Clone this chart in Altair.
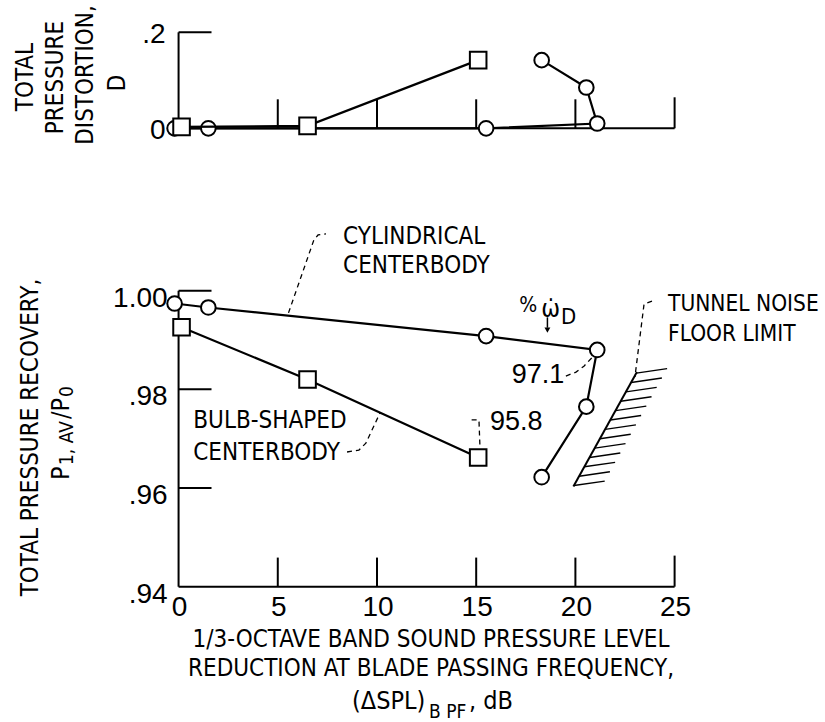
import altair as alt
import pandas as pd

# ---------------------------------------------------------------------------
# Data: inlet with cylindrical vs. bulb-shaped centerbody
# ---------------------------------------------------------------------------
# 1/3-octave band SPL reduction at blade passing frequency, dB
cyl_spl = [-0.2, 1.5, 15.5, 21.1, 20.55, 18.3]
bulb_spl = [0.15, 6.5, 15.1]

# Total pressure recovery P1,AV/P0
cyl_recovery = [0.9974, 0.9966, 0.9908, 0.9880, 0.9765, 0.9622]
bulb_recovery = [0.9926, 0.9820, 0.9662]

# Total pressure distortion D
cyl_distortion = [0.0, 0.0, 0.0, 0.010, 0.085, 0.142]
bulb_distortion = [0.003, 0.005, 0.142]

# Axis ticks and labels
spl_ticks = [0, 5, 10, 15, 20, 25]
recovery_ticks = [0.94, 0.96, 0.98, 1.00]
recovery_labels = [".94", ".96", ".98", "1.00"]
distortion_ticks = [0.0, 0.2]
distortion_labels = ["0", ".2"]

# Tunnel noise floor limit (boundary of hatched region)
floor_spl = [19.9, 23.1]
floor_recovery = [0.9603, 0.9835]
hatch_levels = [0.9605, 0.9624, 0.9643, 0.9662, 0.9681, 0.9700, 0.9719,
                0.9738, 0.9757, 0.9776, 0.9795, 0.9814, 0.9833]

# ---------------------------------------------------------------------------
# Scales (both panels share the SPL axis)
# ---------------------------------------------------------------------------
X_SCALE = alt.Scale(domain=[-9.0, 32.58], nice=False, zero=False)
Y_DIST = alt.Scale(domain=[-1.2369, 0.2673], nice=False, zero=False)
Y_REC = alt.Scale(domain=[0.91257, 1.05893], nice=False, zero=False)

NARROW = "Liberation Sans Narrow, Arial Narrow, sans-serif"
COND = "DejaVu Sans Condensed, Liberation Sans Narrow, sans-serif"

YTICK_LEN = 1.66  # dB, inward y ticks


def xq(field):
    return alt.X(f"{field}:Q", scale=X_SCALE, axis=None)


def yq(field, scale):
    return alt.Y(f"{field}:Q", scale=scale, axis=None)


def segments(df, yscale, **style):
    return alt.Chart(df).mark_rule(color="black", **style).encode(
        x=xq("x"), y=yq("y", yscale), x2="x2:Q", y2="y2:Q")


def texts(df, yscale, **style):
    return alt.Chart(df).mark_text(color="black", **style).encode(
        x=xq("x"), y=yq("y", yscale), text="t:N")


def pixel_texts(df, **style):
    return alt.Chart(df).mark_text(color="black", **style).encode(
        x=alt.X("px:Q", scale=None, axis=None),
        y=alt.Y("py:Q", scale=None, axis=None),
        text="t:N")


def axis_frame(y0, y_top, y_ticks, xtick_len, last_len):
    rows = [dict(x=0, y=y0, x2=0, y2=y_top), dict(x=0, y=y0, x2=25, y2=y0)]
    rows += [dict(x=0, y=v, x2=YTICK_LEN, y2=v) for v in y_ticks if v != y0]
    rows += [dict(x=v, y=y0, x2=v, y2=y0 + (last_len if v == 25 else xtick_len))
             for v in spl_ticks if v > 0]
    return pd.DataFrame(rows)


def series(spl, values, yscale, shape, size):
    df = pd.DataFrame({"spl": spl, "v": values, "seq": range(len(spl))})
    base = alt.Chart(df).encode(x=xq("spl"), y=yq("v", yscale), order="seq:Q")
    line = base.mark_line(color="black", strokeWidth=2.2)
    pts = base.mark_point(shape=shape, size=size, filled=True, fill="white",
                          stroke="black", strokeWidth=2, opacity=1)
    return line + pts


CIRCLE = 215
SQUARE = 275

# ---------------------------------------------------------------------------
# Upper panel: total pressure distortion
# ---------------------------------------------------------------------------
top_axes = segments(axis_frame(0.0, 0.2, distortion_ticks, 0.0604, 0.0646), Y_DIST, strokeWidth=2)
top_labels = texts(pd.DataFrame({"x": [0, 0], "y": distortion_ticks, "t": distortion_labels}),
                   Y_DIST, font=NARROW, fontSize=28, align="right", baseline="middle", dx=-13, dy=3)
top = alt.layer(
    top_axes,
    top_labels,
    series(cyl_spl, cyl_distortion, Y_DIST, "circle", CIRCLE),
    series(bulb_spl, bulb_distortion, Y_DIST, "square", SQUARE),
)

# ---------------------------------------------------------------------------
# Lower panel: total pressure recovery
# ---------------------------------------------------------------------------
bot_axes = segments(axis_frame(0.94, 1.00, recovery_ticks, 0.0059, 0.0063), Y_REC, strokeWidth=2)
bot_xlabels = texts(pd.DataFrame({"x": spl_ticks, "y": [0.94] * len(spl_ticks),
                                  "t": [str(v) for v in spl_ticks]}),
                    Y_REC, font=NARROW, fontSize=28, align="center", baseline="middle", dy=21, dx=1)
bot_ylabels = texts(pd.DataFrame({"x": [0] * 4, "y": recovery_ticks, "t": recovery_labels}),
                    Y_REC, font=NARROW, fontSize=28, align="right", baseline="middle", dx=-11, dy=8)

# noise floor boundary with hatching
floor_line = segments(pd.DataFrame({"x": [floor_spl[0]], "y": [floor_recovery[0]],
                                    "x2": [floor_spl[1]], "y2": [floor_recovery[1]]}),
                      Y_REC, strokeWidth=2)
slope = (floor_spl[1] - floor_spl[0]) / (floor_recovery[1] - floor_recovery[0])
hatch_x = [floor_spl[0] + (r - floor_recovery[0]) * slope for r in hatch_levels]
hatch = segments(pd.DataFrame({"x": hatch_x, "y": hatch_levels,
                               "x2": [x + 1.55 for x in hatch_x],
                               "y2": [r + 0.0009 for r in hatch_levels]}),
                 Y_REC, strokeWidth=1.4)

# dashed leader lines from labels to curves
leaders = {
    "cyl": [(5.54, 0.9955), (6.82, 1.0103), (7.03, 1.0113), (7.43, 1.0115)],
    "bulb": [(8.49, 0.9673), (9.09, 0.9677), (9.44, 0.9691), (10.15, 0.9752)],
    "p958": [(14.77, 0.9738), (15.14, 0.9738), (15.19, 0.9683)],
    "p971": [(19.52, 0.9827), (20.03, 0.9835), (20.43, 0.9847), (20.83, 0.9864)],
    "floor": [(23.86, 0.9979), (23.46, 0.9973), (23.00, 0.9825)],
}
lead_rows = []
for name, pts in leaders.items():
    for i, (x, y) in enumerate(pts):
        lead_rows.append(dict(id=name, seq=i, x=x, y=y))
leader_lines = alt.Chart(pd.DataFrame(lead_rows)).mark_line(
    color="black", strokeWidth=1.3, strokeDash=[5, 4]).encode(
    x=xq("x"), y=yq("y", Y_REC), detail="id:N", order="seq:Q")

# annotation text
notes_left = texts(pd.DataFrame({
    "x": [8.29, 8.29, 0.74, 0.74],
    "y": [1.0108, 1.0050, 0.9736, 0.9672],
    "t": ["CYLINDRICAL", "CENTERBODY", "BULB-SHAPED", "CENTERBODY"]}),
    Y_REC, font=COND, fontSize=24, align="left", baseline="middle")
notes_floor = texts(pd.DataFrame({
    "x": [24.67, 24.67],
    "y": [0.9973, 0.9912],
    "t": ["TUNNEL NOISE", "FLOOR LIMIT"]}),
    Y_REC, font=COND, fontSize=22.5, align="left", baseline="middle")
notes_pct = texts(pd.DataFrame({"x": [15.70, 16.79], "y": [0.9733, 0.9829],
                                "t": ["95.8", "97.1"]}),
                  Y_REC, font=NARROW, fontSize=27, align="left", baseline="middle")
pct_sign = texts(pd.DataFrame({"x": [17.62], "y": [0.9970], "t": ["%"]}),
                 Y_REC, font=COND, fontSize=21, align="center", baseline="middle")
omega = texts(pd.DataFrame({"x": [18.76], "y": [0.9963], "t": ["\u03c9\u0307"]}),
              Y_REC, font=COND, fontSize=25, align="center", baseline="middle")
omega_sub = texts(pd.DataFrame({"x": [19.66], "y": [0.9947], "t": ["D"]}),
                  Y_REC, font=COND, fontSize=22, align="center", baseline="middle")
arrow_shaft = segments(pd.DataFrame({"x": [18.59], "y": [0.9946], "x2": [18.59], "y2": [0.9925]}),
                       Y_REC, strokeWidth=1.5)
arrow_head = alt.Chart(pd.DataFrame({"x": [18.59], "y": [0.9920]})).mark_point(
    shape="triangle-down", filled=True, color="black", size=35, opacity=1).encode(
    x=xq("x"), y=yq("y", Y_REC))

bottom = alt.layer(
    bot_axes, bot_xlabels, bot_ylabels,
    floor_line, hatch, leader_lines,
    notes_left, notes_floor, notes_pct, pct_sign, omega, omega_sub, arrow_shaft, arrow_head,
    series(cyl_spl, cyl_recovery, Y_REC, "circle", CIRCLE),
    series(bulb_spl, bulb_recovery, Y_REC, "square", SQUARE),
)

# ---------------------------------------------------------------------------
# Axis titles
# ---------------------------------------------------------------------------
vertical_titles = pixel_texts(pd.DataFrame({
    "px": [25.5, 55.5, 86.0, 117.5, 30.5],
    "py": [77.0, 77.5, 75.0, 83.0, 437.5],
    "t": ["TOTAL", "PRESSURE", "DISTORTION,", "D", "TOTAL PRESSURE RECOVERY,"]}),
    font=COND, fontSize=24, angle=270, align="center", baseline="middle")
ratio_main = pixel_texts(pd.DataFrame({"px": [60.5, 60.5], "py": [480.0, 419.0], "t": ["P", "/P"]}),
                         font=COND, fontSize=25, angle=270, align="left", baseline="middle")
ratio_sub = pixel_texts(pd.DataFrame({"px": [67.0, 67.0], "py": [465.0, 397.0], "t": ["1, AV", "0"]}),
                        font=COND, fontSize=19, angle=270, align="left", baseline="middle")
x_title = pixel_texts(pd.DataFrame({
    "px": [431.0, 431.0],
    "py": [640.0, 669.0],
    "t": ["1/3-OCTAVE BAND SOUND PRESSURE LEVEL",
          "REDUCTION AT BLADE PASSING FREQUENCY,"]}),
    font=COND, fontSize=24, align="center", baseline="middle")
x_title_main = pixel_texts(pd.DataFrame({"px": [352.0, 469.0], "py": [701.0, 701.0],
                                         "t": ["(\u0394SPL)", ", dB"]}),
                           font=COND, fontSize=25, align="left", baseline="middle")
x_title_sub = pixel_texts(pd.DataFrame({"px": [429.0], "py": [712.0], "t": ["B PF"]}),
                          font=COND, fontSize=19, align="left", baseline="middle")

titles = alt.layer(vertical_titles, ratio_main, ratio_sub, x_title, x_title_main, x_title_sub)

chart = (
    alt.layer(top, bottom, titles)
    .resolve_scale(y="independent")
    .properties(width=825, height=722, padding=0,
                autosize=alt.AutoSizeParams(type="none"), background="white")
    .configure_view(stroke=None)
)

chart.save("out.html", embed_options={"renderer": "svg", "actions": False})
